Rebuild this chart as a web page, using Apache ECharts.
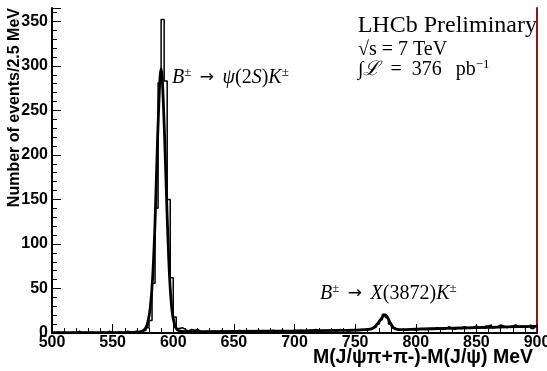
<!DOCTYPE html>
<html><head><meta charset="utf-8">
<script src="https://cdn.jsdelivr.net/npm/echarts@6/dist/echarts.min.js"></script>
<style>html,body{margin:0;padding:0;background:#fff}#c{width:547px;height:371px}</style>
</head><body><div id="c"></div>
<script>
// Histogram: bins of 2.5 MeV starting at 500 MeV
const binStart = 500;
const binWidth = 2.5;
const counts = [
  0,1,0,1,0,0,1,0,2,0, 1,0,1,0,0,1,1,0,2,1, 0,1,1,0,2,1,1,2,1,2,
  3,6,14,56,140,281,352,283,150,62,18,5,6,4,2,
  4,3,4,2,1,2,1,2,2,1, 3,1,2,2,1,2,3,1,2,2,
  2,1,3,2,2,1,2,3,2,2, 3,2,1,2,3,2,3,2,2,3,
  3,4,3,2,3,2,3,3,2,4, 3,3,2,3,4,3,4,3,4,
  4,5,7,10,15,21,17,10,6,4,3,
  4,3,4,4,3,4,5,4,4, 5,4,6,5,4,5,7,5,4,6, 5,7,6,5,6,8,6,7,5,8,
  9,6,7,9,8,6,7,8,9,7, 8,6,7,9,5,8
];
// Fit curve
const fitM = [500,540,560,570,574,577,579,581,583,585,587,589,590,591,593,595,597,599,601,603,606,610,620,650,700,740,755,764,767,770,772,773.5,775,776.5,778,780,782,785,789,800,825,850,875,900];
const fitY = [0.3,0.4,0.6,1,2,5,12,28,62,125,215,285,297,285,215,130,62,25,10,4,2,1.5,1.4,1.7,2.3,3,3.5,5,8,13,17,19.5,20,18,14,9,5.5,4,3.8,4.3,5.2,6,6.8,7.5];
// Axis ticks
const xTicks = [500,550,600,650,700,750,800,850,900];
const yTicks = [0,50,100,150,200,250,300,350];

const histData = counts.map((v,i)=>[binStart+i*binWidth, v]);
histData.push([binStart+counts.length*binWidth, counts[counts.length-1]]);
const fitData = fitM.map((m,i)=>[m, fitY[i]]);

const chart = echarts.init(document.getElementById('c'), null, {renderer:'canvas'});
const tickFont = {fontFamily:'Liberation Sans', fontWeight:'bold', fontSize:16, color:'#000'};
const maroon = '#8a1a1a';
const serif = 'Liberation Serif';
const rich20 = {
  i:{fontFamily:serif, fontStyle:'italic', fontSize:20, lineHeight:24},
  n:{fontFamily:serif, fontSize:20, lineHeight:24},
  a:{fontFamily:'DejaVu Sans', fontSize:17, lineHeight:24},
  s:{fontFamily:serif, fontSize:13, verticalAlign:'top', lineHeight:24}
};
chart.setOption({
  animation:false,
  backgroundColor:'#fff',
  grid:{left:52, right:10, top:8, bottom:38, show:false, containLabel:false, outerBoundsMode:'none'},
  xAxis:[{
    type:'value', min:500, max:900, interval:50, position:'bottom',
    axisLine:{show:true, onZero:false, lineStyle:{color:maroon, width:2}},
    axisTick:{show:true, inside:true, length:9, lineStyle:{color:'#000', width:1}},
    minorTick:{show:true, splitNumber:5, length:5, lineStyle:{color:'#000', width:1}},
    splitLine:{show:false},
    axisLabel:Object.assign({margin:2, formatter:v=> xTicks.includes(v)? String(v):''}, tickFont)
  },{
    type:'value', min:500, max:900, position:'top',
    axisLine:{show:true, lineStyle:{color:'#000', width:2}},
    axisTick:{show:false}, axisLabel:{show:false}, splitLine:{show:false}
  }],
  yAxis:[{
    type:'value', min:0, max:365, interval:50, position:'left',
    axisLine:{show:true, onZero:false, lineStyle:{color:'#000', width:2}},
    axisTick:{show:true, inside:true, length:9, lineStyle:{color:'#000', width:1}},
    minorTick:{show:true, splitNumber:5, length:5, lineStyle:{color:'#000', width:1}},
    splitLine:{show:false},
    axisLabel:Object.assign({margin:4, formatter:v=> yTicks.includes(v)? String(v):''}, tickFont)
  },{
    type:'value', min:0, max:365, position:'right',
    axisLine:{show:true, lineStyle:{color:maroon, width:2}},
    axisTick:{show:false}, axisLabel:{show:false}, splitLine:{show:false}
  }],
  series:[{
    type:'line', name:'data', data:histData, step:'end', symbol:'none',
    lineStyle:{color:'#000', width:1.5}, z:3
  },{
    type:'line', name:'fit', data:fitData, smooth:0.3, symbol:'none',
    lineStyle:{color:'#000', width:2.8}, z:4
  }],
  graphic:[
    {type:'text', x:537, y:38, style:{text:'LHCb Preliminary', font:'24px "Liberation Serif"', fill:'#000', textAlign:'right', textVerticalAlign:'bottom'}},
    {type:'text', x:358, y:38, style:{
      text:'{n|√s = 7 TeV}', fill:'#000', textAlign:'left', textVerticalAlign:'top', rich:rich20}},
    {type:'text', x:358, y:58, style:{
      text:'{n|∫}{i|ℒ}{n|\u2002=\u2002376\u2002\u2009pb}{s|−1}', fill:'#000', textAlign:'left', textVerticalAlign:'top', rich:rich20}},
    {type:'text', x:172, y:66, style:{
      text:'{i|B}{s|±}{a|\u2002→\u2002}{i|ψ}{n|(2}{i|S}{n|)}{i|K}{s|±}', fill:'#000', textAlign:'left', textVerticalAlign:'top', rich:rich20}},
    {type:'text', x:320, y:282, style:{
      text:'{i|B}{s|±}{a|\u2002→\u2002}{i|X}{n|(3872)}{i|K}{s|±}', fill:'#000', textAlign:'left', textVerticalAlign:'top', rich:rich20}},
    {type:'text', x:533, y:368, style:{text:'M(J/ψπ+π-)-M(J/ψ) MeV', font:'bold 19.5px "Liberation Sans"', fill:'#000', textAlign:'right', textVerticalAlign:'bottom'}},
    {type:'text', x:7, y:8, rotation:Math.PI/2, style:{text:'Number of events/2.5 MeV', font:'bold 16px "Liberation Sans"', fill:'#000', textAlign:'right', textVerticalAlign:'top'}}
  ]
});
</script></body></html>
